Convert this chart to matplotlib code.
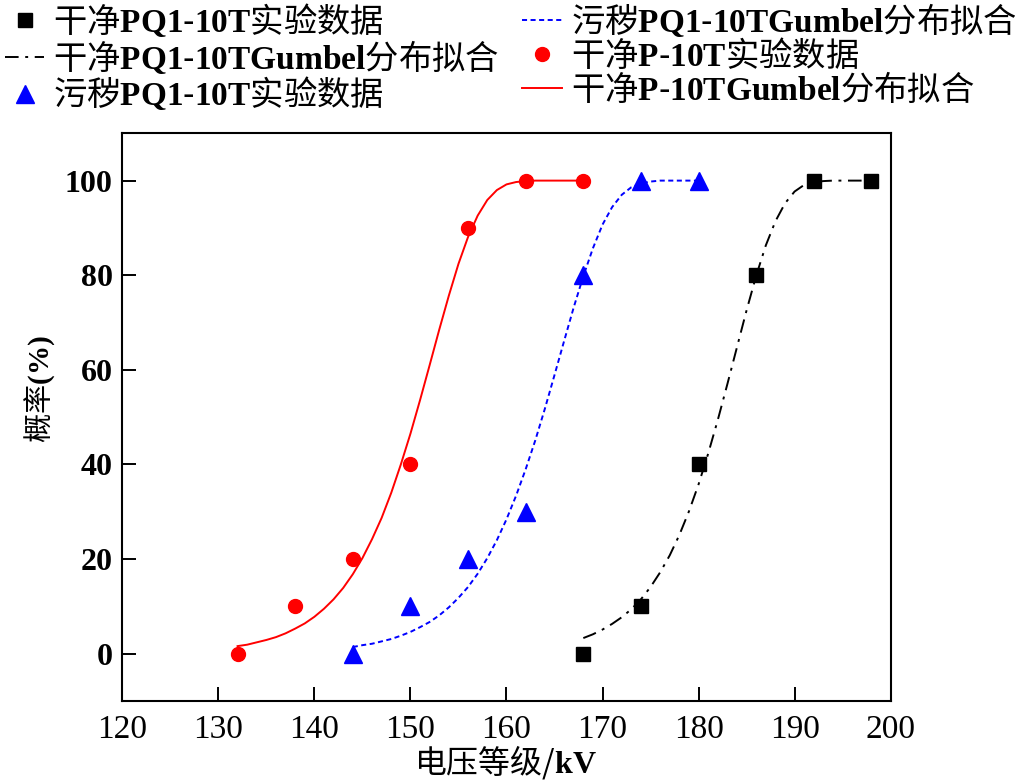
import matplotlib
matplotlib.use('Agg')
import matplotlib.pyplot as plt

plt.rcParams['font.family'] = ['Noto Sans CJK SC', 'DejaVu Sans']
plt.rcParams['mathtext.fontset'] = 'custom'
plt.rcParams['mathtext.bf'] = 'Liberation Serif:bold'
plt.rcParams['mathtext.rm'] = 'Liberation Serif'
plt.rcParams['mathtext.it'] = 'Liberation Serif:italic'

# ---------------- data ----------------
# 干净 P-10T experimental data
volt_p_clean = [132, 138, 144, 150, 156, 162, 168]
prob_p_clean = [0, 10, 20, 40, 90, 100, 100]
# 污秽 PQ1-10T experimental data
volt_pq_dirty = [144, 150, 156, 162, 168, 174, 180]
prob_pq_dirty = [0, 10, 20, 30, 80, 100, 100]
# 干净 PQ1-10T experimental data
volt_pq_clean = [168, 174, 180, 186, 192, 198]
prob_pq_clean = [0, 10, 40, 80, 100, 100]

# Gumbel fit curves
fit_p_clean_x = list(range(132, 169))
fit_p_clean_y = [1.6, 1.9, 2.4, 2.9, 3.5, 4.3, 5.3, 6.4, 7.8, 9.5, 11.5, 13.9,
                 16.8, 20.2, 24.2, 28.7, 34.0, 40.0, 46.5, 53.6, 61.0, 68.5,
                 75.7, 82.4, 88.1, 92.6, 95.9, 98.0, 99.2, 99.7, 99.9, 100,
                 100, 100, 100, 100, 100]
fit_pq_dirty_x = list(range(144, 181))
fit_pq_dirty_y = [1.4, 1.8, 2.1, 2.6, 3.1, 3.8, 4.6, 5.6, 6.7, 8.1, 9.8, 11.8,
                  14.1, 16.9, 20.2, 24.0, 28.4, 33.4, 39.0, 45.1, 51.8, 58.9,
                  66.1, 73.2, 79.8, 85.7, 90.7, 94.4, 97.0, 98.6, 99.4, 99.8,
                  100, 100, 100, 100, 100]
fit_pq_clean_x = list(range(168, 199))
fit_pq_clean_y = [3.3, 4.1, 5.1, 6.3, 7.7, 9.4, 11.5, 14.1, 17.2, 20.8, 25.1,
                  30.1, 35.8, 42.3, 49.4, 57.0, 64.8, 72.6, 79.9, 86.3, 91.4,
                  95.2, 97.7, 99.1, 99.7, 99.9, 100, 100, 100, 100, 100]

x_ticks = [120, 130, 140, 150, 160, 170, 180, 190, 200]
y_ticks = [0, 20, 40, 60, 80, 100]

labels = [
    r'干净$\mathbf{PQ1}$-$\mathbf{10T}$实验数据',
    r'干净$\mathbf{PQ1}$-$\mathbf{10TGumbel}$分布拟合',
    r'污秽$\mathbf{PQ1}$-$\mathbf{10T}$实验数据',
    r'污秽$\mathbf{PQ1}$-$\mathbf{10TGumbel}$分布拟合',
    r'干净$\mathbf{P}$-$\mathbf{10T}$实验数据',
    r'干净$\mathbf{P}$-$\mathbf{10TGumbel}$分布拟合',
]

# ---------------- figure ----------------
fig = plt.figure(figsize=(10.15, 7.8), dpi=100)
ax = fig.add_axes([0.1205, 0.1013, 0.757, 0.7278])

lw = 1.4
h_sq, = ax.plot(volt_pq_clean, prob_pq_clean, ls='none', marker='s', ms=10,
                color='black', label=labels[0])
h_dd, = ax.plot(fit_pq_clean_x, fit_pq_clean_y, color='black', lw=lw,
                ls=(0, (7.0, 3.4, 1.5, 3.4)), label=labels[1])
h_tri, = ax.plot(volt_pq_dirty, prob_pq_dirty, ls='none', marker='^', ms=12.5,
                 color='#0000ff', label=labels[2])
h_dot, = ax.plot(fit_pq_dirty_x, fit_pq_dirty_y, color='#0000ff', lw=lw,
                 ls=(0, (2.6, 1.8)), label=labels[3])
h_cir, = ax.plot(volt_p_clean, prob_p_clean, ls='none', marker='o', ms=10,
                 color='#ff0000', label=labels[4])
h_red, = ax.plot(fit_p_clean_x, fit_p_clean_y, color='#ff0000', lw=lw,
                 ls='-', label=labels[5])

ax.set_xlim(120, 200)
ax.set_ylim(-10, 110)
ax.set_xticks(x_ticks, labels=[str(v) for v in x_ticks],
              fontfamily='Liberation Serif', fontsize=24)
ax.set_yticks(y_ticks, labels=[str(v) for v in y_ticks],
              fontfamily='Liberation Serif', fontsize=23, fontweight='bold')
ax.tick_params(axis='both', direction='in', length=10, width=1.4,
               top=False, right=False)
ax.tick_params(axis='x', pad=10)
ax.tick_params(axis='y', pad=7)
for sp in ax.spines.values():
    sp.set_linewidth(1.5)

fig.text(40 / 1015, 1 - 389 / 780, r'概率$\mathbf{(\%)}$', rotation=90,
         ha='center', va='center', fontsize=21)
fig.text(505 / 1015, 1 - 762 / 780, r'电压等级/$\mathbf{kV}$',
         ha='center', va='center', fontsize=23)

fig.legend([h_sq, h_dd, h_tri, h_dot, h_cir, h_red], labels, ncol=2,
           loc='upper left', bbox_to_anchor=(5 / 1015, 1 - 2 / 780),
           frameon=False, fontsize=24, borderpad=0, borderaxespad=0,
           handlelength=1.18, handletextpad=0.27, columnspacing=0.68,
           labelspacing=-0.04, numpoints=1)

fig.savefig('out.png', dpi=100)
